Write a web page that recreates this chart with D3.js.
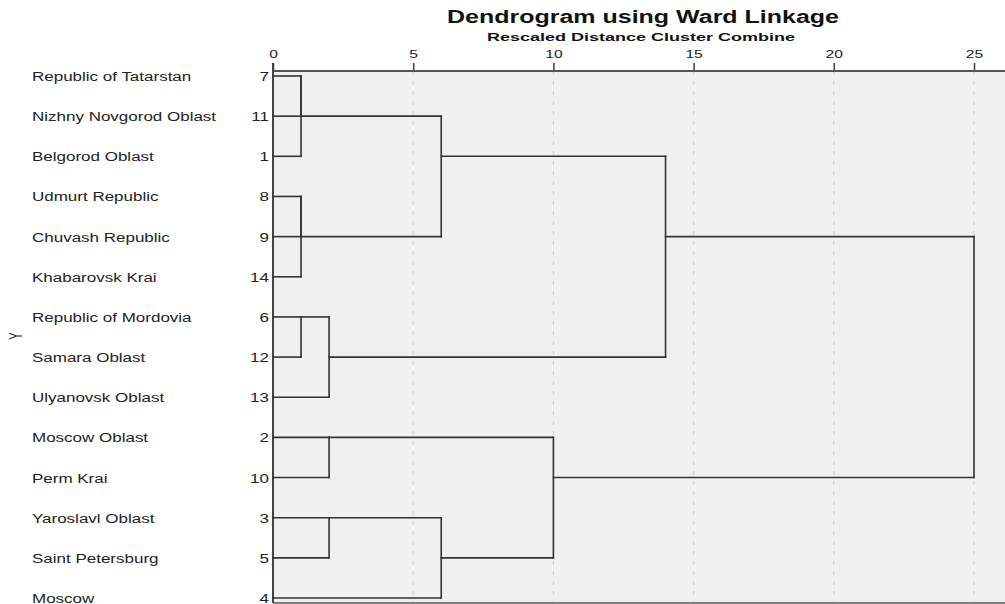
<!DOCTYPE html>
<html>
<head>
<meta charset="utf-8">
<script src="https://cdn.jsdelivr.net/npm/d3@7"></script>
<style>
  body { margin: 0; background: #fff; }
  svg { display: block; font-family: "Liberation Sans", Arial, sans-serif; }
</style>
</head>
<body>
<svg id="chart"></svg>
<script>
// row order as it appears in the dendrogram, top to bottom
const labels = [
    "Republic of Tatarstan", "Nizhny Novgorod Oblast", "Belgorod Oblast",
    "Udmurt Republic", "Chuvash Republic", "Khabarovsk Krai",
    "Republic of Mordovia", "Samara Oblast", "Ulyanovsk Oblast",
    "Moscow Oblast", "Perm Krai", "Yaroslavl Oblast", "Saint Petersburg", "Moscow"
];
const caseNums = [7, 11, 1, 8, 9, 14, 6, 12, 13, 2, 10, 3, 5, 4];

// merges: [left, right, rescaled distance]; "cN" = case N, "mK" = result of merge K
const merges = [
    ["c7", "c11", 1],
    ["m0", "c1", 1],
    ["c8", "c9", 1],
    ["m2", "c14", 1],
    ["c6", "c12", 1],
    ["m4", "c13", 2],
    ["c2", "c10", 2],
    ["c3", "c5", 2],
    ["m7", "c4", 6],
    ["m1", "m3", 6],
    ["m6", "m8", 10],
    ["m9", "m5", 14],
    ["m11", "m10", 25]
];
const ticks = [0, 5, 10, 15, 20, 25];

const width = 1005, height = 604;
const plotLeft = 273, plotTop = 71, plotBottom = 603;
const sx = 1.36; // the SPSS output is stretched sideways

const svg = d3.select("#chart").attr("width", width).attr("height", height);

const x = d3.scaleLinear().domain([0, 25]).range([plotLeft, 974]);
const y = d3.scaleLinear().domain([0, labels.length - 1]).range([76, 598]);

// plot background
svg.append("rect")
    .attr("x", plotLeft).attr("y", plotTop)
    .attr("width", width - plotLeft).attr("height", plotBottom - plotTop)
    .attr("fill", "#f0f0f0");

// dashed grid
svg.append("g").selectAll("line")
    .data(ticks.filter(t => t > 0))
    .join("line")
    .attr("x1", d => x(d)).attr("x2", d => x(d))
    .attr("y1", plotTop).attr("y2", plotBottom)
    .attr("stroke", "#d2d2d2")
    .attr("stroke-width", 1.2)
    .attr("stroke-dasharray", "4,6");

// top axis
const axis = d3.axisTop(x).tickValues(ticks).tickSize(8).tickSizeOuter(0).tickPadding(5);
const ag = svg.append("g").attr("transform", `translate(0,${plotTop})`).call(axis);
ag.select(".domain").remove();
ag.selectAll(".tick line").attr("stroke", "#444").attr("stroke-width", 1.6);
ag.selectAll(".tick text")
    .attr("fill", "#222")
    .attr("y", -13).attr("dy", 0)
    .attr("transform", `scale(${sx},1)`)
    .style("font-size", "11.5px");

// frame lines
svg.append("line").attr("x1", plotLeft).attr("x2", width).attr("y1", plotTop).attr("y2", plotTop)
    .attr("stroke", "#555").attr("stroke-width", 2);
svg.append("line").attr("x1", plotLeft).attr("x2", width).attr("y1", plotBottom).attr("y2", plotBottom)
    .attr("stroke", "#555").attr("stroke-width", 1.6);
svg.append("line").attr("x1", plotLeft).attr("x2", plotLeft).attr("y1", plotTop - 8).attr("y2", plotBottom)
    .attr("stroke", "#444").attr("stroke-width", 2);

// build dendrogram segments
const node = {};
caseNums.forEach((c, i) => { node["c" + c] = { row: i, h: 0 }; });
const segs = [];
merges.forEach((m, k) => {
    const a = node[m[0]], b = node[m[1]], h = m[2];
    segs.push([a.h, a.row, h, a.row]);
    segs.push([b.h, b.row, h, b.row]);
    segs.push([h, a.row, h, b.row]);
    node["m" + k] = { row: Math.floor((a.row + b.row) / 2), h: h };
});

svg.append("g").selectAll("line")
    .data(segs.filter(s => s[0] !== s[2] || s[1] !== s[3]))
    .join("line")
    .attr("x1", d => x(d[0])).attr("y1", d => y(d[1]))
    .attr("x2", d => x(d[2])).attr("y2", d => y(d[3]))
    .attr("stroke", "#333")
    .attr("stroke-width", 1.6)
    .attr("stroke-linecap", "square");

// row labels
svg.append("g").selectAll("text")
    .data(labels)
    .join("text")
    .attr("transform", (d, i) => `translate(32,${y(i) + 5}) scale(${sx},1)`)
    .attr("fill", "#222")
    .style("font-size", "12.5px")
    .text(d => d);

// case numbers
svg.append("g").selectAll("text")
    .data(caseNums)
    .join("text")
    .attr("transform", (d, i) => `translate(269,${y(i) + 5}) scale(${sx},1)`)
    .attr("text-anchor", "end")
    .attr("fill", "#222")
    .style("font-size", "12.5px")
    .text(d => d);

// titles
svg.append("text")
    .attr("x", 643).attr("y", 23)
    .attr("text-anchor", "middle")
    .attr("textLength", 392).attr("lengthAdjust", "spacingAndGlyphs")
    .attr("fill", "#111")
    .style("font-size", "18px").style("font-weight", "bold")
    .text("Dendrogram using Ward Linkage");
svg.append("text")
    .attr("x", 641).attr("y", 41)
    .attr("text-anchor", "middle")
    .attr("textLength", 308).attr("lengthAdjust", "spacingAndGlyphs")
    .attr("fill", "#111")
    .style("font-size", "11px").style("font-weight", "bold")
    .text("Rescaled Distance Cluster Combine");

// y axis title
svg.append("text")
    .attr("transform", "translate(15.5,336) scale(1.6,1) rotate(-90)")
    .attr("text-anchor", "middle")
    .attr("dy", "0.35em")
    .attr("fill", "#222")
    .style("font-size", "11px")
    .text("Y");
</script>
</body>
</html>
